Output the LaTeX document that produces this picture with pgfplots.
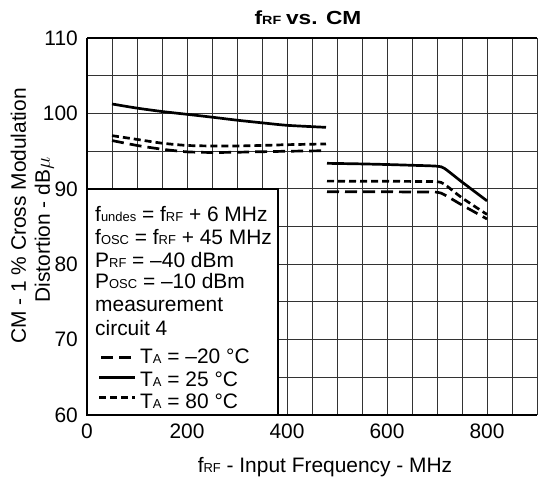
\documentclass[border=0pt]{standalone}
\usepackage{fontspec}
\setmainfont{Liberation Sans}
\usepackage{graphicx}
\usepackage{pgfplots}
\usepackage{pgfplotstable}
\pgfplotsset{compat=1.18}

\newcommand{\fs}{\fontsize{21}{24}\selectfont}
\newcommand{\sm}[1]{{\fontsize{13}{13}\selectfont #1}}

\pgfplotstableread{
x y
50 96.4
100 95.75
150 95.25
200 94.9
250 94.82
300 94.85
350 94.92
400 94.98
478 95.05
}\tmAa
\pgfplotstableread{
x y
480 89.62
550 89.6
600 89.6
650 89.58
700 89.55
715 89.2
750 87.85
800 86.0
}\tmAb
\pgfplotstableread{
x y
50 101.25
100 100.7
150 100.25
200 99.88
250 99.5
300 99.1
350 98.75
400 98.42
478 98.15
}\tmBa
\pgfplotstableread{
x y
480 93.38
550 93.3
600 93.22
650 93.12
700 93.0
715 92.7
750 90.9
800 88.4
}\tmBb
\pgfplotstableread{
x y
50 97.05
100 96.55
150 96.05
200 95.75
250 95.68
300 95.68
350 95.75
400 95.85
478 95.95
}\tmCa
\pgfplotstableread{
x y
480 91.02
550 91.0
600 91.0
650 90.98
700 90.95
715 90.6
750 88.8
800 86.6
}\tmCb

\tikzset{
  tA/.style={line width=2.7bp, dash pattern=on 12bp off 6bp},
  tB/.style={line width=2.7bp},
  tC/.style={line width=2.7bp, dash pattern=on 7bp off 4bp},
}

\begin{document}
\begin{tikzpicture}
\begin{axis}[
  scale only axis, width=450bp, height=377bp,
  xmin=0, xmax=900, ymin=60, ymax=110,
  axis x line*=box, axis y line*=left,
  axis line style={line width=2.6bp, -},
  xtick={0,200,...,800}, ytick={60,70,...,110},
  minor xtick={50,100,...,900}, minor ytick={65,75,...,105},
  grid=both,
  major grid style={black!80, line width=0.9bp},
  minor grid style={black!80, line width=0.9bp},
  major tick length=0, minor tick length=0,
  tick label style={font=\fs},
  /pgf/number format/assume math mode=true,
  xticklabel style={anchor=base, yshift=-23bp, inner sep=0},
  yticklabel style={anchor=east, xshift=-9bp, inner sep=0},
  clip=false,
  title={\fontsize{19}{21}\selectfont\bfseries\scalebox{1.2}[1]{f{\fontsize{12}{12}\selectfont RF}\hspace{4bp}vs. CM}},
  title style={at={(axis description cs:0.5,1)}, anchor=base, yshift=8bp, xshift=-4bp, inner sep=0},
  xlabel={f\sm{RF} - Input Frequency - MHz},
  xlabel style={at={(axis description cs:0.5,0)}, anchor=base, yshift=-57bp, xshift=13bp, inner sep=0, font=\fs},
  ylabel={CM - 1 \% Cross Modulation\\Distortion - dB$\mu$\hspace*{28bp}},
  ylabel style={at={(axis description cs:-0.0733,0.528)}, anchor=south, inner sep=0, align=center, font=\fs},
]
\addplot[tA, smooth, tension=0.4] table {\tmAa};
\addplot[tA, smooth, tension=0.4] table {\tmAb};
\addplot[tB, smooth, tension=0.4] table {\tmBa};
\addplot[tB, smooth, tension=0.4] table {\tmBb};
\addplot[tC, smooth, tension=0.4] table {\tmCa};
\addplot[tC, smooth, tension=0.4] table {\tmCb};

% legend box
\draw[line width=1.8bp, fill=white] (rel axis cs:0,0) rectangle ([shift={(191bp,226bp)}]rel axis cs:0,0);
\draw[line width=2.6bp] ([shift={(0bp,226bp)}]rel axis cs:0,0) -- (rel axis cs:0,0) -- ([shift={(191bp,0bp)}]rel axis cs:0,0);
\node[anchor=base west, inner sep=0, font=\fs] at ([shift={(8bp,194bp)}]rel axis cs:0,0) {f\sm{undes} = f\sm{RF} + 6 MHz};
\node[anchor=base west, inner sep=0, font=\fs] at ([shift={(8bp,171bp)}]rel axis cs:0,0) {f\sm{OSC} = f\sm{RF} + 45 MHz};
\node[anchor=base west, inner sep=0, font=\fs] at ([shift={(8bp,148bp)}]rel axis cs:0,0) {P\sm{RF} = --40 dBm};
\node[anchor=base west, inner sep=0, font=\fs] at ([shift={(8bp,126.5bp)}]rel axis cs:0,0) {P\sm{OSC} = --10 dBm};
\node[anchor=base west, inner sep=0, font=\fs] at ([shift={(8bp,103.3bp)}]rel axis cs:0,0) {measurement};
\node[anchor=base west, inner sep=0, font=\fs] at ([shift={(8bp,80bp)}]rel axis cs:0,0) {circuit 4};
\draw[tA] ([shift={(14bp,57.3bp)}]rel axis cs:0,0) -- ([shift={(46bp,57.3bp)}]rel axis cs:0,0);
\draw[tB] ([shift={(12bp,37.7bp)}]rel axis cs:0,0) -- ([shift={(48bp,37.7bp)}]rel axis cs:0,0);
\draw[tC] ([shift={(12bp,17.3bp)}]rel axis cs:0,0) -- ([shift={(48bp,17.3bp)}]rel axis cs:0,0);
\node[anchor=base west, inner sep=0, font=\fs] at ([shift={(53bp,51.7bp)}]rel axis cs:0,0) {T\sm{A} = --20 °C};
\node[anchor=base west, inner sep=0, font=\fs] at ([shift={(53bp,28.3bp)}]rel axis cs:0,0) {T\sm{A} = 25 °C};
\node[anchor=base west, inner sep=0, font=\fs] at ([shift={(53bp,6.7bp)}]rel axis cs:0,0) {T\sm{A} = 80 °C};
\end{axis}
\pgfresetboundingbox
\path ([shift={(-87bp,-65bp)}]current axis.south west) rectangle ([shift={(1bp,38bp)}]current axis.north east);
\end{tikzpicture}
\end{document}
